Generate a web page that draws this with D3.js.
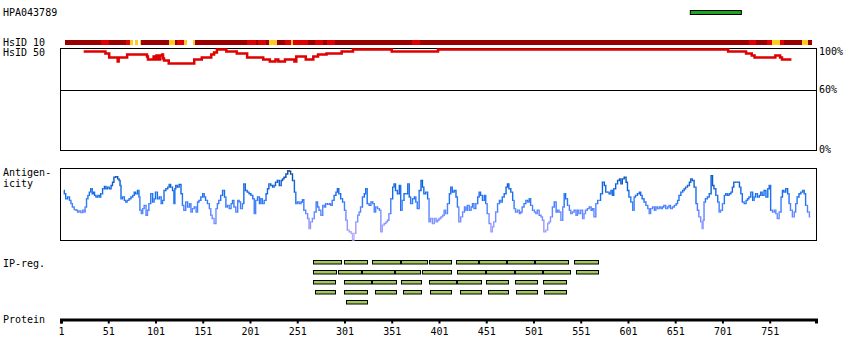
<!DOCTYPE html>
<html><head><meta charset="utf-8">
<script src="https://cdn.jsdelivr.net/npm/d3@7"></script>
<style>
body{margin:0;background:#fff}
svg{display:block}
text{font-family:"DejaVu Sans Mono",monospace;font-size:10px;fill:#000}
</style>
</head><body>
<svg id="c" width="850" height="360"></svg>
<script>
const antibodyId = "HPA043789";
const proteinLength = 800;
const axisTicks = [1,51,101,151,201,251,301,351,401,451,501,551,601,651,701,751];
const antigenRegion = [667, 721];
const trackLabels = ["HsID 10","HsID 50","Antigen-","icity","IP-reg.","Protein"];
const identityTicks = [100, 60, 0];
const identityTickLabels = ["100%", "60%", "0%"];
// HsID 10 conservation bar: [start, end, level] level 0=high,1=mid,2=low
const hsid10Segments = [[5,43,0],[43,52,1],[52,70,0],[70,74,1],[74,77,2],[79,82,2],[85,86,2],[86,115,0],[115,122,2],[122,124,0],[124,131,1],[131,134,2],[141,143,2],[143,198,0],[198,207,1],[207,209,0],[209,218,1],[218,221,0],[221,230,2],[230,238,0],[238,244,1],[244,247,2],[247,262,1],[262,270,0],[270,278,1],[278,282,0],[282,291,1],[291,372,0],[372,381,1],[381,729,0],[729,737,1],[737,748,0],[748,753,1],[753,762,2],[762,766,1],[766,785,0],[785,792,2],[792,796,0]];
const hsid10Colors = ["#9a0000","#e00000","#ffcc22"];
// HsID 50 identity (%), step changes at residue
const hsid50 = [[25,98],[48,96],[52,92],[61,88],[62,92],[71,95],[92,93],[93,90],[99,93],[100,90],[102,94],[104,90],[106,94],[108,95],[109,91],[110,89],[115,86],[142,90],[150,92],[160,95],[163,97],[166,100],[176,98],[187,96],[198,92],[215,90],[222,88],[228,90],[231,88],[238,90],[248,88],[250,93],[260,90],[268,93],[273,95],[282,96],[298,98],[310,100],[351,98],[400,100],[707,98],[726,96],[732,94],[735,92],[757,94],[762,92],[764,90],[774,90]];
// Antigenicity score per residue (arbitrary units)
const antigenicity = [[4,150],[5,140],[7,125],[9,130],[11,120],[12,110],[14,100],[16,92],[18,90],[19,85],[21,88],[23,83],[25,90],[26,85],[27,100],[29,125],[30,135],[32,145],[33,155],[35,140],[36,145],[37,135],[39,130],[41,135],[42,130],[44,140],[46,155],[48,162],[49,155],[51,160],[53,155],[55,165],[56,175],[58,190],[60,192],[62,185],[63,180],[64,165],[65,125],[67,130],[69,120],[70,115],[72,120],[74,125],[76,130],[78,135],[79,145],[81,140],[83,150],[84,130],[85,90],[87,80],[88,95],[90,105],[92,75],[93,90],[95,110],[97,140],[99,115],[100,125],[102,145],[104,125],[106,130],[108,110],[109,120],[111,150],[113,155],[115,160],[116,168],[118,160],[120,150],[121,110],[122,155],[123,165],[125,160],[127,168],[129,140],[130,105],[132,90],[134,115],[136,100],[138,110],[139,85],[141,95],[143,100],[145,85],[146,115],[148,120],[150,130],[152,140],[153,130],[155,120],[157,110],[159,95],[160,75],[162,65],[164,50],[166,95],[167,110],[169,120],[171,135],[173,150],[175,130],[176,100],[178,105],[180,95],[182,110],[183,120],[185,100],[187,85],[189,120],[190,115],[192,95],[194,110],[195,170],[197,150],[199,145],[201,140],[203,135],[205,125],[206,80],[208,120],[210,130],[212,110],[213,125],[215,110],[217,120],[219,140],[220,155],[222,170],[224,165],[226,160],[227,165],[229,175],[231,180],[233,165],[235,180],[236,185],[238,190],[240,200],[242,210],[243,208],[245,200],[247,180],[249,145],[250,110],[252,115],[254,110],[256,115],[257,122],[259,90],[261,80],[263,65],[264,35],[266,55],[268,65],[270,85],[272,115],[273,100],[275,90],[277,75],[279,105],[280,100],[282,110],[284,108],[286,110],[287,105],[289,120],[291,135],[293,145],[294,155],[296,140],[298,125],[300,115],[302,90],[303,60],[305,30],[307,25],[309,20],[310,0],[312,20],[314,55],[316,75],[317,85],[319,100],[321,130],[323,140],[324,155],[326,110],[328,105],[330,115],[332,110],[333,85],[335,100],[337,95],[339,90],[340,25],[342,45],[344,50],[346,55],[347,60],[349,80],[351,125],[353,160],[354,170],[356,150],[358,140],[360,165],[361,90],[363,120],[365,140],[367,140],[369,170],[370,130],[372,110],[374,125],[376,130],[377,115],[379,95],[381,150],[383,180],[384,160],[386,140],[388,145],[390,125],
[391,55],[393,65],[395,50],[397,65],[399,55],[400,60],[402,65],[404,70],[406,75],[407,90],[409,80],[411,110],[413,140],[414,160],[416,145],[418,150],[420,130],[421,100],[423,55],[425,70],[427,85],[429,100],[430,90],[432,105],[434,90],[436,100],[437,110],[439,95],[441,110],[443,130],[444,145],[446,135],[448,120],[450,135],[451,110],[453,80],[455,50],[457,25],[458,40],[460,55],[462,85],[464,110],[466,120],[467,115],[469,130],[471,140],[473,160],[474,170],[476,155],[478,145],[480,120],[481,95],[483,85],[485,90],[487,80],[488,85],[490,100],[492,110],[494,120],[496,115],[497,125],[499,105],[501,90],[503,85],[504,80],[506,90],[508,75],[510,70],[511,60],[513,25],[515,30],[517,50],[518,55],[520,70],[522,100],[524,115],[526,85],[527,90],[529,85],[531,60],[533,100],[534,140],[536,125],[538,105],[540,90],[541,80],[543,85],[545,90],[547,75],[548,90],[550,80],[552,90],[554,65],[555,80],[557,90],[559,95],[561,100],[563,90],[564,95],[566,70],[568,110],[570,120],[571,120],[573,140],[575,175],[577,165],[578,145],[580,145],[582,140],[584,150],[585,135],[587,155],[589,170],[591,180],[593,185],[594,170],[596,185],[598,190],[600,175],[601,150],[603,130],[605,115],[607,90],[608,130],[610,135],[612,140],[614,145],[615,135],[617,125],[619,115],[621,105],[623,95],[624,80],[626,95],[628,100],[630,90],[631,100],[633,95],[635,100],[637,95],[638,100],[640,105],[642,95],[644,100],[645,105],[647,95],[649,100],[651,105],[653,110],[654,120],[656,135],[658,145],[660,150],[661,155],[663,160],[665,165],[667,175],[668,185],[670,180],[672,160],[674,110],[675,90],[677,70],[679,55],[680,35],[681,60],[682,115],[684,125],[686,130],[688,140],[690,195],[691,165],[693,155],[695,135],[697,115],[698,85],[700,90],[702,110],[704,135],[705,140],[707,135],[709,140],[711,145],[712,160],[714,175],[716,175],[718,175],[720,160],[721,140],[723,115],[725,110],[727,120],[728,125],[730,130],[732,145],[734,120],[735,130],[737,140],[739,130],[741,135],[742,145],[744,135],[746,150],[748,130],[750,155],[751,165],[753,90],[755,85],[757,90],[758,80],[760,65],[762,85],[764,130],[765,150],[767,145],[769,155],[771,140],[772,110],[774,90],[776,70],[778,85],[779,110],[781,130],[783,140],[785,145],[787,150],[788,140],[790,105],[792,85],[794,70]];
// IP regions (PrEST-like fragments) per row
const ipRow1 = [[268,297],[301,325],[330,360],[361,388],[390,414],[419,442],[443,472],[473,502],[503,538],[544,569]];
const ipRow2 = [[268,292],[294,319],[320,353],[354,381],[383,414],[420,450],[451,480],[481,510],[511,540],[546,569]];
const ipRow3 = [[268,291],[301,329],[330,355],[361,382],[390,419],[420,445],[451,474],[481,505],[511,535]];
const ipRow4 = [[270,291],[301,325],[333,355],[363,382],[392,414],[423,445],[453,474],[483,505],[512,535]];
const ipRow5 = [[303,325]];
const ipRows = [ipRow1, ipRow2, ipRow3, ipRow4, ipRow5];

const svg = d3.select("#c");
const x = d3.scaleLinear().domain([1, proteinLength]).range([61, 816]);

// title
svg.append("text").attr("x", 3).attr("y", 16).text(antibodyId);
// antigen region bar
svg.append("rect").attr("x", x(antigenRegion[0])).attr("y", 10.5)
  .attr("width", x(antigenRegion[1]) - x(antigenRegion[0])).attr("height", 4)
  .attr("fill", "#1ea51e").attr("stroke", "#000").attr("stroke-width", 1);

// labels
const labelPos = [[3,46],[3,56],[3,176],[3,187],[3,267],[3,323]];
trackLabels.forEach((t,i)=>svg.append("text").attr("x",labelPos[i][0]).attr("y",labelPos[i][1]).text(t));

// HsID 10 bar
svg.append("g").selectAll("rect").data(hsid10Segments).join("rect")
  .attr("x", d=>x(d[0])).attr("y", 40).attr("width", d=>x(d[1])-x(d[0])).attr("height", 5)
  .attr("fill", d=>hsid10Colors[d[2]]).attr("shape-rendering","crispEdges");

// HsID 50 panel
const yH = d3.scaleLinear().domain([0,100]).range([150, 49.5]);
svg.append("rect").attr("x",60.5).attr("y",48.5).attr("width",756).attr("height",102)
  .attr("fill","none").attr("stroke","#000").attr("stroke-width",1);
svg.append("line").attr("x1",60.5).attr("x2",816.5).attr("y1",Math.round(yH(60))+0.5).attr("y2",Math.round(yH(60))+0.5)
  .attr("stroke","#000").attr("stroke-width",1);
identityTicks.forEach((v,i)=>{
  const yy = Math.min(Math.max(yH(v)+3.5, 55), 152.5);
  svg.append("text").attr("x",819).attr("y",yy).text(identityTickLabels[i]);
});
svg.append("path").datum(hsid50)
  .attr("d", d3.line().x(d=>x(d[0])).y(d=>yH(d[1])).curve(d3.curveStepAfter))
  .attr("fill","none").attr("stroke","#e00000").attr("stroke-width",2.5);

// Antigenicity panel
const ya = d3.scaleLinear().domain([0,215]).range([240,169]);
const ca = d3.scaleLinear().domain([0,40,90,130,170,210])
  .range(["#c8b0ff","#9a98ff","#5585ff","#1a70f5","#0c5fd0","#08469a"]);
svg.append("rect").attr("x",60.5).attr("y",168.5).attr("width",756).attr("height",72)
  .attr("fill","none").attr("stroke","#000").attr("stroke-width",1);
const stepLine = d3.line().x(d=>x(d[0])).y(d=>ya(d[1])).curve(d3.curveStep);
const ag = svg.append("g");
for (let i=0;i<antigenicity.length-1;i++){
  const a = antigenicity[i], b = antigenicity[i+1];
  ag.append("path").attr("d", stepLine([a,b])).attr("fill","none")
    .attr("stroke", ca((a[1]+b[1])/2)).attr("stroke-width",1.4);
}

// IP regions
ipRows.forEach((row,ri)=>{
  svg.append("g").selectAll("rect").data(row).join("rect")
    .attr("x", d=>Math.round(x(d[0]))+0.5).attr("y", 260.5 + ri*10)
    .attr("width", d=>Math.round(x(d[1]))-Math.round(x(d[0]))).attr("height", 3.5)
    .attr("fill","#a0c85a").attr("stroke","#000").attr("stroke-width",1);
});

// Protein axis
const axis = d3.axisBottom(x).tickValues(axisTicks).tickSize(4).tickSizeOuter(4).tickPadding(4).tickFormat(d3.format("d"));
const axg = svg.append("g").attr("transform","translate(0,319.5)").call(axis);
axg.attr("font-family","DejaVu Sans Mono").attr("font-size",10);
axg.select(".domain").attr("stroke-width",3);
axg.selectAll(".tick line").attr("stroke-width",2);
</script>
</body></html>
